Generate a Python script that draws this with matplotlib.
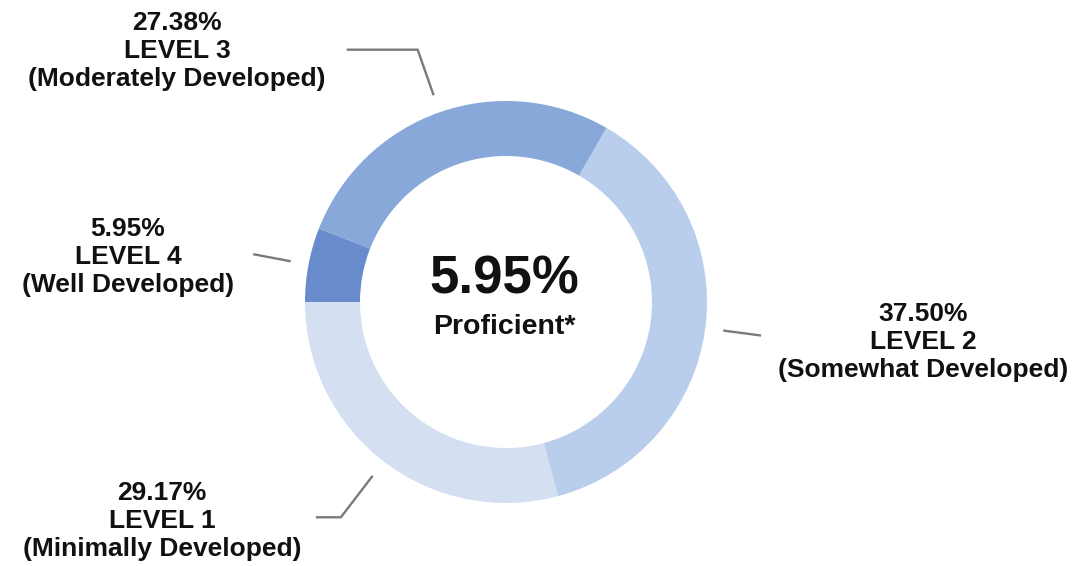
import numpy as np
import matplotlib
matplotlib.use("Agg")
import matplotlib.pyplot as plt

# data, in drawing order (counter-clockwise from 9 o'clock)
levels = ['LEVEL 1', 'LEVEL 2', 'LEVEL 3', 'LEVEL 4']
descr = ['(Minimally Developed)', '(Somewhat Developed)',
         '(Moderately Developed)', '(Well Developed)']
pcts = [29.17, 37.50, 27.38, 5.95]
proficient = 5.95

colors = ['#d4e0f2', '#b8ceec', '#87a8d9', '#688ccb']

plt.rcParams['font.family'] = ['Liberation Sans', 'DejaVu Sans']

W, H = 1074, 566
fig = plt.figure(figsize=(W / 100, H / 100), dpi=100)
ax = fig.add_axes([0, 0, 1, 1])

cx, cy, R = 506, H - 302, 201
wedges, _ = ax.pie(pcts, colors=colors, startangle=180, counterclock=True,
                   radius=R, center=(cx, cy),
                   wedgeprops=dict(width=55, linewidth=0))
ax.set_xlim(0, W)
ax.set_ylim(0, H)
ax.set_aspect('equal', adjustable='box')
ax.axis('off')

# leader lines: radial piece, plus a short horizontal tail for some
r_in = [1.09, 1.09, 1.09, 1.09]
r_out = [1.35, 1.28, 1.33, 1.28]
tails = [-25, 0, -71, 0]
# label anchor (centre of text block), in pixels from top-left
lab_xy = [(162, 521), (923, 342), (177, 51), (128, 257)]

for i, w in enumerate(wedges):
    mid = np.deg2rad((w.theta1 + w.theta2) / 2)
    x0, y0 = cx + R * r_in[i] * np.cos(mid), cy + R * r_in[i] * np.sin(mid)
    x1, y1 = cx + R * r_out[i] * np.cos(mid), cy + R * r_out[i] * np.sin(mid)
    xs, ys = [x0, x1], [y0, y1]
    if tails[i]:
        xs.append(x1 + tails[i])
        ys.append(y1)
    ax.plot(xs, ys, color='#7a7a7a', lw=1.7, solid_capstyle='butt')
    lx, ly = lab_xy[i]
    ax.text(lx, H - ly, '%.2f%%\n%s\n%s' % (pcts[i], levels[i], descr[i]),
            ha='center', va='center', multialignment='center',
            fontsize=19, fontweight='bold', color='#111111',
            linespacing=1.2)

ax.text(cx - 2, H - 279, '%.2f%%' % proficient, ha='center', va='center',
        fontsize=38, fontweight='bold', color='#111111')
ax.text(cx - 2, H - 327, 'Proficient*', ha='center', va='center',
        fontsize=20.5, fontweight='bold', color='#111111')

fig.savefig('out.png', dpi=100, facecolor='white')
